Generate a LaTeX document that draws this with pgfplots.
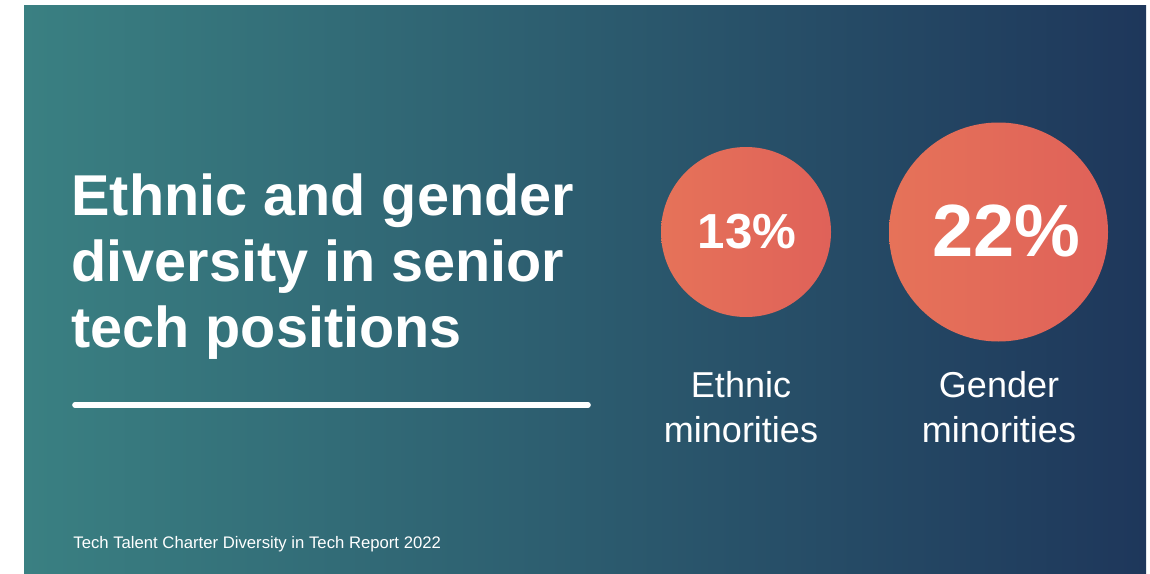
\documentclass[border=0pt]{standalone}
\usepackage{pgfplots}
\pgfplotsset{compat=1.18}
\usepackage{fontspec}
\setmainfont{Liberation Sans}
\definecolor{bgL}{RGB}{58,128,130}
\definecolor{bgR}{RGB}{30,55,91}
\definecolor{cL}{RGB}{233,123,88}
\definecolor{cR}{RGB}{220,89,90}
\pgfdeclarehorizontalshading{circshade}{100bp}{color(0bp)=(cL); color(100bp)=(cR)}
\pgfdeclareplotmark{gcircle}{%
  \pgfpathcircle{\pgfpointorigin}{\pgfplotmarksize}%
  \pgfshadepath{circshade}{0}%
  \pgfusepath{discard}}
\begin{document}
\begin{tikzpicture}
\begin{axis}[
  width=575pt, height=286.5pt, scale only axis,
  xmin=0, xmax=1150, ymin=0, ymax=573, y dir=reverse,
  hide axis, clip=false]
% page and background
\fill[white] (axis cs:0,0) rectangle (axis cs:1150,573);
\shade[left color=bgL, right color=bgR] (axis cs:24,5) rectangle (axis cs:1146,573);
% circles: area proportional to the share
\addplot[only marks, mark=gcircle, mark size=42.5pt,
  point meta=explicit symbolic,
  nodes near coords, nodes near coords align={center},
  every node near coord/.style={anchor=center, text=white, xshift=0.5pt,
    font=\fontsize{24.6}{30}\selectfont\bfseries}]
  coordinates {(746,232) [13\%]};
\addplot[only marks, mark=gcircle, mark size=54.75pt,
  point meta=explicit symbolic,
  nodes near coords, nodes near coords align={center},
  every node near coord/.style={anchor=center, text=white, xshift=4pt, yshift=0.5pt,
    font=\fontsize{37}{44}\selectfont\bfseries}]
  coordinates {(998.5,232) [22\%]};
% title
\node[anchor=base west, inner sep=0pt, text=white, font=\fontsize{28.8}{33}\selectfont\bfseries] at (axis cs:71,215) {Ethnic and gender};
\node[anchor=base west, inner sep=0pt, text=white, font=\fontsize{28.8}{33}\selectfont\bfseries] at (axis cs:71,281) {diversity in senior};
\node[anchor=base west, inner sep=0pt, text=white, font=\fontsize{28.8}{33}\selectfont\bfseries] at (axis cs:71,347) {tech positions};
\draw[white, line width=2.8pt, line cap=round] (axis cs:75,405) -- (axis cs:588,405);
% labels
\node[anchor=base, inner sep=0pt, text=white, font=\fontsize{18}{22}\selectfont] at (axis cs:741,397) {Ethnic};
\node[anchor=base, inner sep=0pt, text=white, font=\fontsize{18}{22}\selectfont] at (axis cs:741,442) {minorities};
\node[anchor=base, inner sep=0pt, text=white, font=\fontsize{18}{22}\selectfont] at (axis cs:999,397) {Gender};
\node[anchor=base, inner sep=0pt, text=white, font=\fontsize{18}{22}\selectfont] at (axis cs:999,442) {minorities};
% source
\node[anchor=base west, inner sep=0pt, text=white, font=\fontsize{8.35}{10}\selectfont] at (axis cs:73,548) {Tech Talent Charter Diversity in Tech Report 2022};
\end{axis}
\end{tikzpicture}
\end{document}
